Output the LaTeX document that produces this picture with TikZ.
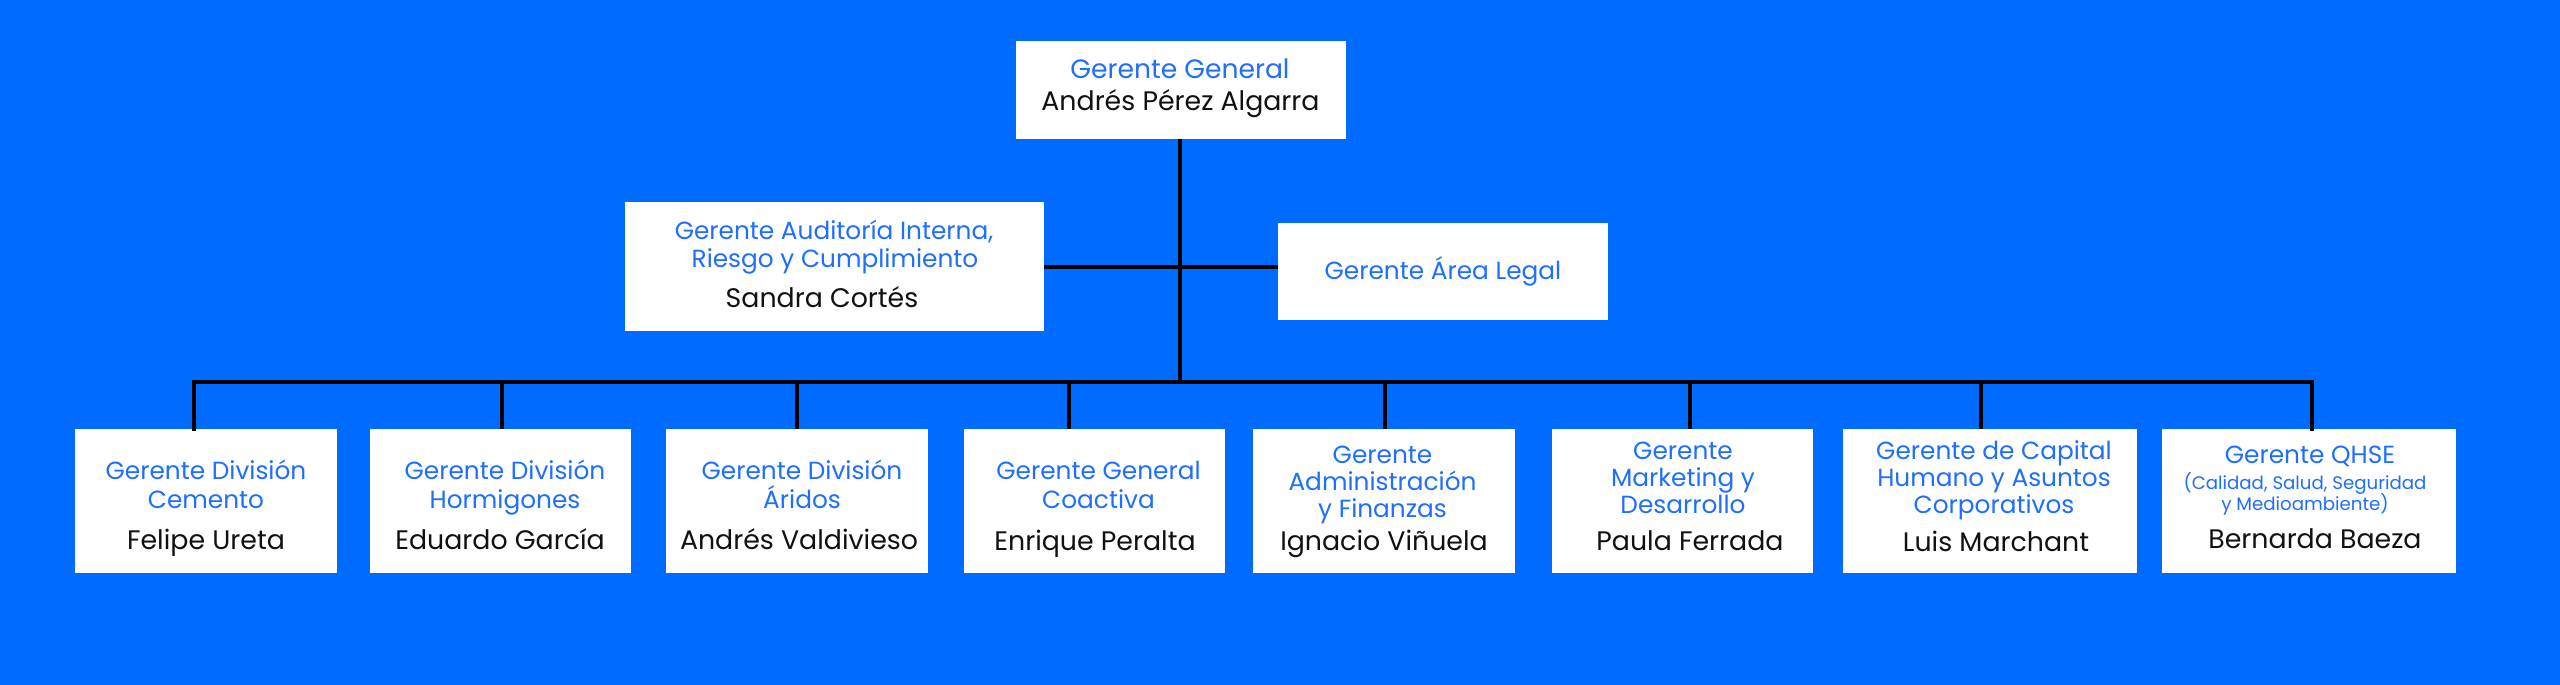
\documentclass[tikz,border=0pt]{standalone}
\usepackage{fontspec}
\setmainfont{Poppins}
\definecolor{bgblue}{HTML}{006CFF}
\definecolor{roleblue}{HTML}{1E6EFF}
\definecolor{ink}{HTML}{111111}
\begin{document}
\begin{tikzpicture}[x=0.5pt,y=-0.5pt,
  box/.style={fill=white,draw=none,inner sep=0pt},
  role/.style={text=roleblue,font=\fontsize{12.4}{14}\selectfont,anchor=base,inner sep=0pt},
  rolebig/.style={role,font=\fontsize{13.3}{15}\selectfont},
  rolesmall/.style={text=roleblue,font=\fontsize{9.1}{10}\selectfont,anchor=base,inner sep=0pt},
  person/.style={text=ink,font=\fontsize{13.4}{16}\selectfont,anchor=base,inner sep=0pt},
  conn/.style={draw=black,line width=2pt}]
\fill[bgblue] (0,0) rectangle (2560,685);
\useasboundingbox (0,0) rectangle (2560,685);

% boxes
\node[box,minimum width=165pt,minimum height=49pt] (top) at (1181,90) {};
\node[box,minimum width=209.5pt,minimum height=64.5pt] (audit) at (834.5,266.5) {};
\node[box,minimum width=165pt,minimum height=48.5pt] (legal) at (1443,271.5) {};
\node[box,minimum width=131pt,minimum height=72pt] (b1) at (206,501) {};
\node[box,minimum width=130.5pt,minimum height=72pt] (b2) at (500.5,501) {};
\node[box,minimum width=131pt,minimum height=72pt] (b3) at (797,501) {};
\node[box,minimum width=130.5pt,minimum height=72pt] (b4) at (1094.5,501) {};
\node[box,minimum width=131pt,minimum height=72pt] (b5) at (1384,501) {};
\node[box,minimum width=130.5pt,minimum height=72pt] (b6) at (1682.5,501) {};
\node[box,minimum width=147pt,minimum height=72pt] (b7) at (1990,501) {};
\node[box,minimum width=147pt,minimum height=72pt] (b8) at (2309,501) {};

% connectors
\coordinate (bus) at (1180,382);
\coordinate (busL) at (194,382);
\coordinate (busR) at (2312,382);
\coordinate (d2) at (502,382);
\coordinate (d3) at (797,382);
\coordinate (d4) at (1069,382);
\coordinate (d5) at (1385,382);
\coordinate (d6) at (1690,382);
\coordinate (d7) at (1981,382);
\draw[conn] (top.south -| bus) -- (bus);
\draw[conn] (audit.east) -- (audit.east -| legal.west);
\draw[conn,line cap=rect] (busL |- b1.north) -- (busL) -- (busR) -- (busR |- b8.north);
\draw[conn] (d2) -- (d2 |- b2.north);
\draw[conn] (d3) -- (d3 |- b3.north);
\draw[conn] (d4) -- (d4 |- b4.north);
\draw[conn] (d5) -- (d5 |- b5.north);
\draw[conn] (d6) -- (d6 |- b6.north);
\draw[conn] (d7) -- (d7 |- b7.north);

% texts
\node[rolebig] (t0a) at (1180,78) {Gerente General};
\node[person] (t0b) at (1180.5,110) {Andrés Pérez Algarra};

\node[role] (ta1) at (834,239) {Gerente Auditoría Interna,};
\node[role] (ta2) at (835,267) {Riesgo y Cumplimiento};
\node[person] (ta3) at (822,307) {Sandra Cortés};

\node[role] (tl1) at (1443,279) {Gerente Área Legal};

\node[role] (t1a) at (206,479) {Gerente División};
\node[role] (t1b) at (206,508) {Cemento};
\node[person] (t1c) at (206,549) {Felipe Ureta};

\node[role] (t2a) at (505,479) {Gerente División};
\node[role] (t2b) at (505,508) {Hormigones};
\node[person] (t2c) at (500,549) {Eduardo García};

\node[role] (t3a) at (802,479) {Gerente División};
\node[role] (t3b) at (802,508) {Áridos};
\node[person] (t3c) at (799,549) {Andrés Valdivieso};

\node[role] (t4a) at (1098.5,479) {Gerente General};
\node[role] (t4b) at (1098.5,508) {Coactiva};
\node[person] (t4c) at (1095,550) {Enrique Peralta};

\node[role] (t5a) at (1382.5,463) {Gerente};
\node[role] (t5b) at (1382.5,490) {Administración};
\node[role] (t5c) at (1382.5,517) {y Finanzas};
\node[person] (t5d) at (1384,550) {Ignacio Viñuela};

\node[role] (t6a) at (1683,459) {Gerente};
\node[role] (t6b) at (1683,486) {Marketing y};
\node[role] (t6c) at (1683,513) {Desarrollo};
\node[person] (t6d) at (1690,550) {Paula Ferrada};

\node[role] (t7a) at (1994,459) {Gerente de Capital};
\node[role] (t7b) at (1994,486) {Humano y Asuntos};
\node[role] (t7c) at (1994,513) {Corporativos};
\node[person] (t7d) at (1996,551) {Luis Marchant};

\node[role] (t8a) at (2310,463) {Gerente QHSE};
\node[rolesmall] (t8b) at (2305,489.5) {(Calidad, Salud, Seguridad};
\node[rolesmall] (t8c) at (2305,510) {y Medioambiente)};
\node[person] (t8d) at (2315,548) {Bernarda Baeza};
\end{tikzpicture}
\end{document}
